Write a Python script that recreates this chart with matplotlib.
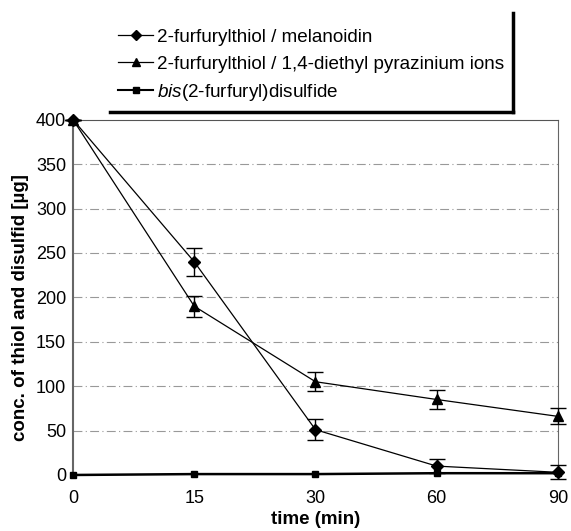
import matplotlib
matplotlib.use("Agg")
import matplotlib.pyplot as plt
from matplotlib.lines import Line2D

plt.rcParams['font.family'] = ['Liberation Sans', 'DejaVu Sans']
plt.rcParams['mathtext.fontset'] = 'custom'
plt.rcParams['mathtext.it'] = 'Liberation Sans:italic'
plt.rcParams['mathtext.rm'] = 'Liberation Sans'

time_labels = ["0", "15", "30", "60", "90"]
melanoidin = [400, 240, 51, 10, 3]
melanoidin_err = [0, 16, 12, 8, 8]
pyrazinium = [400, 190, 105, 85, 66]
pyrazinium_err = [0, 12, 11, 11, 9]
disulfide = [0, 1, 1, 2, 2]
series_names = ["2-furfurylthiol / melanoidin",
                "2-furfurylthiol / 1,4-diethyl pyrazinium ions",
                "$\\it{bis}$(2-furfuryl)disulfide"]

fig = plt.figure(figsize=(5.71, 5.31), dpi=100)
ax = fig.add_axes([0.128, 0.1055, 0.849, 0.669])
x = list(range(len(time_labels)))

for yv in range(50, 400, 50):
    ax.axhline(yv, color='#999999', lw=0.8, ls=(0, (8, 3, 1, 3)), zorder=0)

ax.errorbar(x, melanoidin, yerr=melanoidin_err, color='black', lw=0.9,
            marker='D', ms=6, capsize=6, capthick=1.0, elinewidth=1.0,
            clip_on=False, zorder=3)
ax.errorbar(x, pyrazinium, yerr=pyrazinium_err, color='black', lw=0.9,
            marker='^', ms=7, capsize=6, capthick=1.0, elinewidth=1.0,
            clip_on=False, zorder=3)
ax.plot(x, disulfide, color='black', lw=1.8, marker='s', ms=4.5,
        clip_on=False, zorder=4)

ax.set_xlim(0, len(time_labels) - 1)
ax.set_ylim(0, 400)
ax.set_xticks(x)
ax.set_xticklabels(time_labels)
ax.set_yticks(range(0, 401, 50))
ax.tick_params(axis='both', length=0, labelsize=13)
ax.tick_params(axis='x', pad=11)
ax.tick_params(axis='y', pad=5)
ax.set_xlabel("time (min)", fontsize=13.5, fontweight='bold', labelpad=3)
ax.set_ylabel("conc. of thiol and disulfid [µg]", fontsize=13.5,
              fontweight='bold', labelpad=6)
ax.yaxis.set_label_coords(-0.09, 0.47)

ax.spines['left'].set_color('#666666')
ax.spines['left'].set_linewidth(1.5)
ax.spines['right'].set_color('#666666')
ax.spines['right'].set_linewidth(0.8)
ax.spines['top'].set_color('#555555')
ax.spines['top'].set_linewidth(0.8)
ax.spines['bottom'].set_visible(False)

handles = [
    Line2D([], [], color='black', lw=0.9, marker='D', ms=5),
    Line2D([], [], color='black', lw=0.9, marker='^', ms=6),
    Line2D([], [], color='black', lw=1.5, marker='s', ms=4.5),
]
leg = fig.legend(handles, series_names, loc='upper left',
                 bbox_to_anchor=(0.207, 0.946), frameon=False, fontsize=13.6,
                 handlelength=1.85, handletextpad=0.2, labelspacing=0.5,
                 borderaxespad=0, borderpad=0)

# legend box shadow borders (right and bottom)
fig.add_artist(Line2D([0.193, 0.899], [0.789, 0.789], color='black', lw=2.5,
                      transform=fig.transFigure))
fig.add_artist(Line2D([0.899, 0.899], [0.789, 0.975], color='black', lw=2.5,
                      transform=fig.transFigure))

fig.savefig("out.png", dpi=100)
